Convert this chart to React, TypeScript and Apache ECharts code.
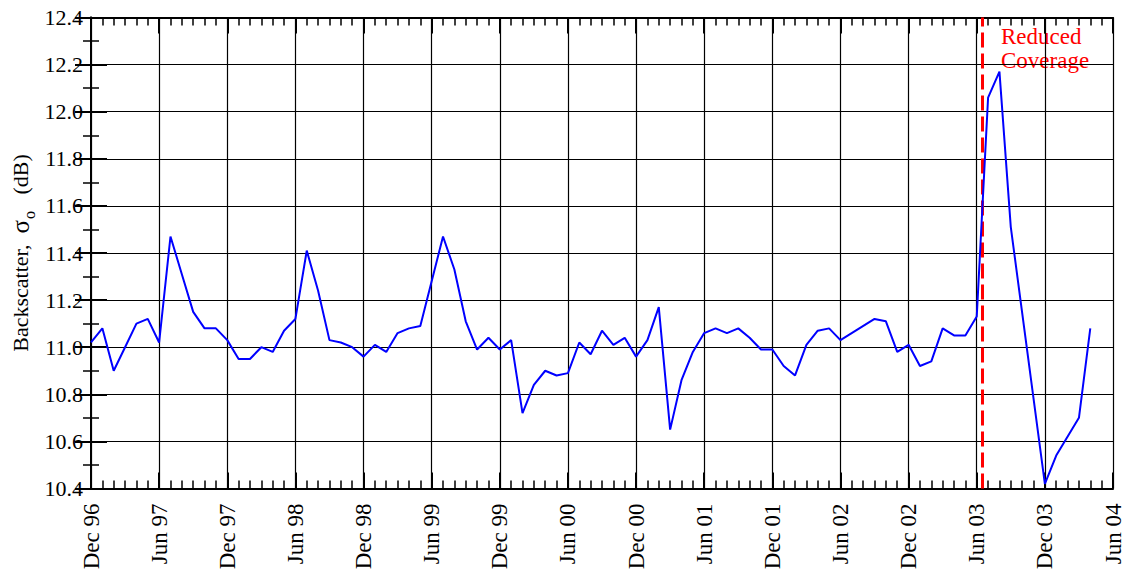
import React, { useEffect, useRef } from 'react';
import * as echarts from 'echarts';

// months counted from Dec 1996 (0) to Jun 2004 (90)
const months: number[] = [
  0, 1, 2, 3, 4, 5, 6, 7, 8, 9, 10, 11, 12, 13, 14, 15, 16, 17, 18, 19, 20, 21, 22, 23, 24,
  25, 26, 27, 28, 29, 31, 32, 33, 34, 35, 36, 37, 38, 39, 40, 41, 42, 43, 44, 45, 46, 47, 48,
  49, 50, 51, 52, 53, 54, 55, 56, 57, 58, 59, 60, 61, 62, 63, 64, 65, 66, 69, 70, 71, 72, 73,
  74, 75, 76, 77, 78, 79, 80, 81, 84, 85, 87, 88,
];
const backscatter: number[] = [
  11.02, 11.08, 10.9, 11.0, 11.1, 11.12, 11.02, 11.47, 11.31, 11.15, 11.08, 11.08, 11.03, 10.95,
  10.95, 11.0, 10.98, 11.07, 11.12, 11.41, 11.24, 11.03, 11.02, 11.0, 10.96, 11.01, 10.98, 11.06,
  11.08, 11.09, 11.47, 11.33, 11.11, 10.99, 11.04, 10.99, 11.03, 10.72, 10.84, 10.9, 10.88, 10.89,
  11.02, 10.97, 11.07, 11.01, 11.04, 10.96, 11.03, 11.17, 10.65, 10.86, 10.98, 11.06, 11.08, 11.06,
  11.08, 11.04, 10.99, 10.99, 10.92, 10.88, 11.01, 11.07, 11.08, 11.03, 11.12, 11.11, 10.98, 11.01,
  10.92, 10.94, 11.08, 11.05, 11.05, 11.13, 12.06, 12.17, 11.51, 10.42, 10.54, 10.7, 11.08,
];
const monthNames = ['Dec', 'Jun'];
const reducedCoverageAt = 78.45; // mid June 2003
const annotation = ['Reduced', 'Coverage'];

const FONT = 'Liberation Serif';

function monthLabel(v: number): string {
  const total = 1996 * 12 + 11 + v;
  const year = Math.floor(total / 12);
  const m = total % 12;
  const name = m === 11 ? monthNames[0] : monthNames[1];
  return name + ' ' + String(year % 100).padStart(2, '0');
}

export default function App() {
  const ref = useRef<HTMLDivElement | null>(null);

  useEffect(() => {
    if (!ref.current) return;
    const chart = echarts.init(ref.current, undefined, { renderer: 'svg' });
    const axisLine = { show: true, lineStyle: { color: '#000', width: 2 } };
    const xBase = {
      type: 'value' as const,
      min: 0,
      max: 90,
      interval: 6,
      axisLine,
      axisTick: { show: true, inside: true, length: 16, lineStyle: { color: '#000', width: 2 } },
      minorTick: { show: true, splitNumber: 6, length: 8, lineStyle: { color: '#000', width: 1.5 } },
    };
    const yBase = {
      type: 'value' as const,
      min: 10.4,
      max: 12.4,
      interval: 0.2,
      axisLine,
      axisTick: { show: true, inside: true, length: 16, lineStyle: { color: '#000', width: 2 } },
      minorTick: { show: true, splitNumber: 2, length: 8, lineStyle: { color: '#000', width: 1.5 } },
    };
    chart.setOption({
      animation: false,
      backgroundColor: '#fff',
      textStyle: { fontFamily: FONT },
      grid: { left: 91, right: 16, top: 17.5, bottom: 85.5, containLabel: false },
      xAxis: [
        {
          ...xBase,
          position: 'bottom',
          axisLabel: {
            rotate: 90,
            margin: 15,
            color: '#000',
            fontFamily: FONT,
            fontSize: 23,
            formatter: (v: number) => monthLabel(v),
          },
          splitLine: { show: true, lineStyle: { color: '#000', width: 1.2 } },
        },
        {
          ...xBase,
          position: 'top',
          axisLabel: { show: false },
          splitLine: { show: false },
        },
      ],
      yAxis: [
        {
          ...yBase,
          position: 'left',
          axisLabel: {
            margin: 8,
            color: '#000',
            fontFamily: FONT,
            fontSize: 22,
            formatter: (v: number) => v.toFixed(1),
          },
          splitLine: { show: true, lineStyle: { color: '#000', width: 1.2 } },
        },
        {
          ...yBase,
          position: 'right',
          axisLabel: { show: false },
          splitLine: { show: false },
        },
      ],
      series: [
        {
          type: 'line',
          xAxisIndex: 0,
          yAxisIndex: 0,
          data: months.map((m, i) => [m, backscatter[i]]),
          showSymbol: false,
          symbol: 'none',
          lineStyle: { color: '#0000ff', width: 2 },
          z: 5,
          markLine: {
            silent: true,
            symbol: 'none',
            label: { show: false },
            lineStyle: { color: '#ff0000', width: 3, type: [15, 6] },
            data: [{ xAxis: reducedCoverageAt }],
          },
        },
      ],
      graphic: [
        {
          type: 'text',
          x: 20,
          y: 253,
          rotation: Math.PI / 2,
          style: {
            text: '{t|Backscatter,  }{g|σ}{s|o}{t|   (dB)}',
            align: 'center',
            verticalAlign: 'middle',
            rich: {
              t: { fontFamily: FONT, fontSize: 22, fill: '#000', lineHeight: 26 },
              g: { fontFamily: FONT, fontSize: 25, fill: '#000', lineHeight: 26 },
              s: { fontFamily: FONT, fontSize: 16, fill: '#000', lineHeight: 16, padding: [18, 0, 0, 1] },
            },
          },
        },
        {
          type: 'text',
          left: 1001,
          top: 24,
          style: {
            text: annotation.join('\n'),
            fontFamily: FONT,
            fontSize: 23,
            lineHeight: 24,
            fill: '#ff0000',
          },
        },
      ],
    });
    return () => {
      chart.dispose();
    };
  }, []);

  return (
    <div
      ref={ref}
      style={{ position: 'fixed', left: 0, top: 0, width: 1129, height: 574 }}
    />
  );
}
